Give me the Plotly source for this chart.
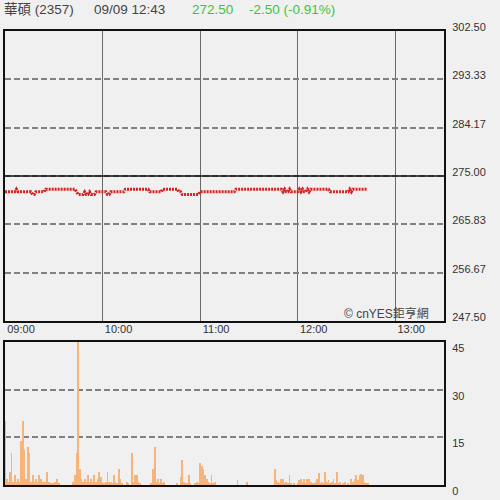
import pandas as pd
import plotly.graph_objects as go

# 華碩 (2357) intraday, 09/09, one point per minute from 09:00 to 12:43
prices = [
    272.0, 272.0, 272.0, 272.0, 272.0, 272.0, 272.0, 272.5, 272.0, 272.0,
    272.0, 272.0, 272.0, 272.0, 272.0, 272.0, 272.0, 271.5, 271.5, 272.0,
    272.0, 272.0, 272.0, 272.0, 272.0, 272.5, 272.5, 272.5, 272.5, 272.5,
    272.5, 272.5, 272.5, 272.5, 272.5, 272.5, 272.5, 272.5, 272.5, 272.5,
    272.5, 272.5, 272.5, 272.5, 272.0, 271.5, 271.5, 271.5, 271.5, 272.0,
    271.5, 271.5, 272.0, 271.5, 271.5, 271.5, 272.0, 272.0, 272.0, 272.0,
    272.0, 272.0, 272.0, 271.5, 271.5, 272.0, 272.0, 272.0, 272.0, 272.0,
    272.0, 272.0, 272.0, 272.0, 272.5, 272.5, 272.5, 272.5, 272.5, 272.5,
    272.5, 272.5, 272.5, 272.5, 272.5, 272.5, 272.5, 272.5, 272.5, 272.0,
    272.0, 272.0, 272.0, 272.0, 272.0, 272.0, 272.0, 272.5, 272.5, 272.5,
    272.5, 272.5, 272.5, 272.5, 272.5, 272.5, 272.5, 272.0, 272.0, 271.5,
    271.5, 271.5, 271.5, 271.5, 271.5, 271.5, 271.5, 271.5, 271.5, 271.5,
    272.0, 272.0, 272.0, 272.0, 272.0, 272.0, 272.0, 272.0, 272.0, 272.0,
    272.0, 272.0, 272.0, 272.0, 272.0, 272.0, 272.0, 272.0, 272.0, 272.0,
    272.0, 272.0, 272.5, 272.5, 272.5, 272.5, 272.5, 272.5, 272.5, 272.5,
    272.5, 272.5, 272.5, 272.5, 272.5, 272.5, 272.5, 272.5, 272.5, 272.5,
    272.5, 272.5, 272.5, 272.5, 272.5, 272.5, 272.5, 272.5, 272.5, 272.5,
    272.5, 272.0, 272.5, 272.0, 272.0, 272.5, 272.0, 272.0, 272.0, 272.0,
    272.0, 272.5, 272.0, 272.5, 272.0, 272.0, 272.5, 272.0, 272.5, 272.5,
    272.5, 272.5, 272.5, 272.5, 272.5, 272.5, 272.5, 272.5, 272.5, 272.5,
    272.0, 272.0, 272.0, 272.0, 272.0, 272.0, 272.0, 272.0, 272.0, 272.0,
    272.0, 272.0, 272.5, 272.0, 272.5, 272.5, 272.5, 272.5, 272.5, 272.5,
    272.5, 272.5, 272.5, 272.5,
]

volumes = [
    20, 2, 1, 4, 10, 1, 3, 1, 2, 1,
    14, 20, 11, 2, 12, 10, 1, 3, 1, 2,
    1, 3, 2, 1, 1, 1, 4, 1, 0.5, 0.5,
    0.5, 1, 2, 0.5, 0, 0, 0, 0, 0, 0,
    0, 0, 1, 3, 10, 45, 5, 2, 1, 2,
    1, 3, 1, 2, 1, 3, 1, 2, 4, 2.5,
    1, 0.5, 1, 4, 1, 1, 0.5, 3, 1, 0.5,
    5, 2, 0.5, 0, 0, 1, 0.5, 0, 10, 1,
    3, 3, 1, 0.5, 0, 0, 0, 0, 0, 0,
    0.5, 5, 12, 1, 2, 0.5, 2, 0.5, 1, 0,
    0, 0, 0, 0, 0, 0, 0.5, 0, 2.5, 8,
    1, 0.5, 0.5, 3, 0.5, 0, 0, 0.5, 1, 0.5,
    7, 6, 5, 3, 2, 1, 0.5, 3, 0.5, 1,
    0, 0, 0, 0, 0, 0, 0, 0, 0, 0,
    0, 0, 0, 1.5, 0, 0, 0, 0, 0, 1,
    0, 0, 0, 0, 0, 0, 0, 0, 0, 0,
    0, 0, 0, 0, 0, 0, 5, 1.5, 1, 0.5,
    2, 2, 0.5, 1, 0.5, 3, 0.5, 0, 0.5, 0,
    0.5, 1.5, 2, 1, 2, 0.5, 2, 2, 1, 0.5,
    0.5, 1, 2, 3.7, 0.5, 1, 0.5, 4, 1, 1.5,
    0.5, 1, 2, 0.5, 4, 0.5, 1, 0, 0.5, 1,
    0, 0.5, 0, 2, 1, 2, 3, 1.5, 3, 3.5,
    3, 1, 0.5, 0.5,
]

times = pd.date_range("2020-09-09 09:00", periods=len(prices), freq="1min")

price_ticks = [302.50, 293.33, 284.17, 275.00, 265.83, 256.67, 247.50]
price_labels = ["302.50", "293.33", "284.17", "275.00", "265.83", "256.67", "247.50"]
prev_close = 275.00
volume_ticks = [0, 15, 30, 45]

FONT = "Liberation Sans, Arial, Noto Sans CJK TC, sans-serif"
BG = "#f0f0f0"
GREEN = "#3fc43f"

fig = go.Figure()

fig.add_trace(go.Scatter(
    x=times, y=prices, mode="lines",
    line=dict(color="#d42222", width=3, dash="2px,1px"),
    xaxis="x", yaxis="y", showlegend=False,
))

fig.add_trace(go.Bar(
    x=times, y=volumes, width=32000,
    marker=dict(color="#f7b47a", line=dict(width=0)),
    xaxis="x2", yaxis="y2", showlegend=False,
))

# previous close reference line
fig.add_shape(type="line", xref="x domain", yref="y", x0=0, x1=1,
              y0=prev_close, y1=prev_close, line=dict(color="#111", width=1.5))

x_range = ["2020-09-09 09:00", "2020-09-09 13:30"]

fig.update_layout(
    width=500, height=500,
    margin=dict(l=0, r=0, t=0, b=0, autoexpand=False),
    paper_bgcolor=BG, plot_bgcolor=BG,
    font=dict(family=FONT, size=11, color="#333"),
    bargap=0,
    xaxis=dict(
        domain=[0.01, 0.888], range=x_range, type="date",
        dtick=3600000, tickformat="%H:%M",
        showgrid=True, gridcolor="#6a6a6a", gridwidth=1,
        showline=True, linecolor="#111", linewidth=2, mirror=True,
        ticks="", ticklabelshift=16, ticklabelstandoff=-3,
        zeroline=False, anchor="y", automargin=False,
    ),
    yaxis=dict(
        domain=[0.358, 0.938], range=[247.5, 302.5], side="right",
        tickvals=price_ticks, ticktext=price_labels,
        showgrid=True, gridcolor="#808080", gridwidth=1.5, griddash="6px,3px",
        showline=True, linecolor="#111", linewidth=2, mirror=True,
        ticks="", ticklabelstandoff=4, ticklabelshift=-4,
        zeroline=False, anchor="x", automargin=False,
    ),
    xaxis2=dict(
        domain=[0.01, 0.888], range=x_range, type="date",
        showgrid=False, showticklabels=False, ticks="",
        showline=True, linecolor="#111", linewidth=2, mirror=True,
        zeroline=False, anchor="y2", automargin=False,
    ),
    yaxis2=dict(
        domain=[0.03, 0.316], range=[0, 45], side="right",
        tickvals=volume_ticks,
        showgrid=True, gridcolor="#808080", gridwidth=1.5, griddash="6px,3px",
        showline=True, linecolor="#111", linewidth=2, mirror=True,
        ticks="", ticklabelstandoff=4, ticklabelshift=6,
        zeroline=False, anchor="x2", automargin=False,
    ),
)

header = [
    ("華碩 (2357)", 0.004, "#444"),
    ("09/09 12:43", 0.184, "#444"),
    ("272.50", 0.380, GREEN),
    ("-2.50 (-0.91%)", 0.494, GREEN),
]
for text, xpos, color in header:
    fig.add_annotation(text=text, x=xpos, y=0.982, xref="paper", yref="paper",
                       xanchor="left", yanchor="middle", showarrow=False,
                       font=dict(size=13.5, color=color, family=FONT))

fig.add_annotation(text="© cnYES鉅亨網", x=0.684, y=0.374, xref="paper", yref="paper",
                   xanchor="left", yanchor="middle", showarrow=False,
                   font=dict(size=12, color="#444", family=FONT))

# pin the 500x500 figure to the window corner (no page margin / extra height)
pin_js = (
    "var gd=document.getElementById('{plot_id}');"
    "gd.style.position='fixed';gd.style.top='0px';gd.style.left='0px';"
    "document.body.style.margin='0';document.body.style.overflow='hidden';"
    "document.documentElement.style.overflow='hidden';"
    "document.body.style.background='#f0f0f0';"
)
fig.write_html("out.html", config={"displayModeBar": False}, post_script=pin_js)
